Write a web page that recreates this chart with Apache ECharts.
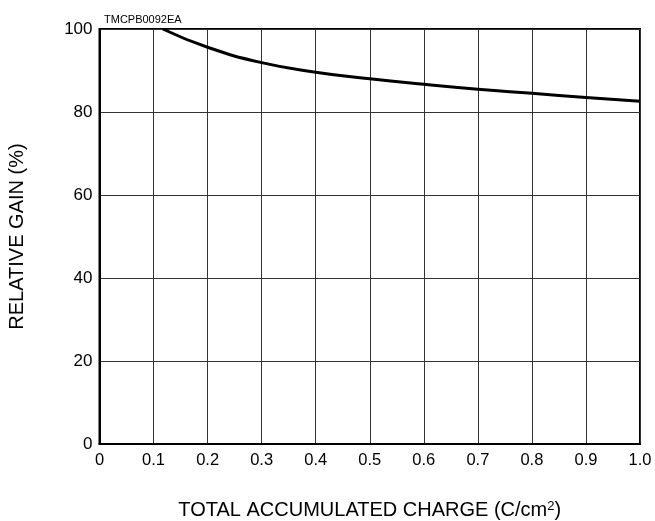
<!DOCTYPE html>
<html>
<head>
<meta charset="utf-8">
<script src="https://cdn.jsdelivr.net/npm/echarts@6/dist/echarts.min.js"></script>
<style>
  html, body { margin: 0; padding: 0; background: #fff; }
  #chart { width: 655px; height: 521px; }
</style>
</head>
<body>
<div id="chart"></div>
<script>
// Relative gain versus total accumulated charge
const chargeValues = [0.117, 0.2, 0.3, 0.4, 0.5, 0.6, 0.7, 0.8, 0.9, 1.0];
const gainValues   = [100, 95.6, 91.9, 89.6, 88.0, 86.7, 85.5, 84.5, 83.5, 82.6];
const xTicks = ['0', '0.1', '0.2', '0.3', '0.4', '0.5', '0.6', '0.7', '0.8', '0.9', '1.0'];
const yTicks = ['0', '20', '40', '60', '80', '100'];

const font = 'Liberation Sans, Arial, Helvetica, sans-serif';
const chart = echarts.init(document.getElementById('chart'), null, { renderer: 'canvas' });

chart.setOption({
  animation: false,
  backgroundColor: '#fff',
  title: {
    text: 'TMCPB0092EA',
    left: 99, top: 9,
    textStyle: { fontFamily: font, fontSize: 11, fontWeight: 'normal', color: '#000' }
  },
  grid: {
    left: 99.5, right: 15, top: 29, bottom: 77,
    outerBoundsMode: 'none',
    containLabel: false,
    show: true, borderColor: '#000', borderWidth: 2
  },
  xAxis: {
    type: 'value', min: 0, max: 1, interval: 0.1,
    name: '{m|TOTAL ACCUMULATED CHARGE (C/cm}{s|2}{m|)}',
    nameLocation: 'middle', nameGap: 56,
    nameTextStyle: {
      rich: {
        m: { fontFamily: font, fontSize: 20, color: '#000' },
        s: { fontFamily: font, fontSize: 13, color: '#000', padding: [0, 0, 7, 0] }
      }
    },
    axisLine: { show: true, lineStyle: { color: '#000', width: 2 } },
    axisTick: { show: false },
    splitLine: { show: true, lineStyle: { color: '#333', width: 1 } },
    axisLabel: {
      margin: 8, color: '#000', fontFamily: font, fontSize: 16.5,
      formatter: v => xTicks[Math.round(v * 10)]
    }
  },
  yAxis: {
    type: 'value', min: 0, max: 100, interval: 20,
    name: 'RELATIVE GAIN (%)',
    nameLocation: 'middle', nameGap: 72,
    nameTextStyle: { fontFamily: font, fontSize: 20, color: '#000' },
    axisLine: { show: true, lineStyle: { color: '#000', width: 2 } },
    axisTick: { show: false },
    splitLine: { show: true, lineStyle: { color: '#333', width: 1 } },
    axisLabel: {
      margin: 7, color: '#000', fontFamily: font, fontSize: 17,
      formatter: v => yTicks[Math.round(v / 20)]
    }
  },
  series: [{
    type: 'line',
    data: chargeValues.map((c, i) => [c, gainValues[i]]),
    smooth: 0.5,
    showSymbol: false,
    lineStyle: { color: '#000', width: 3 }
  }]
});
</script>
</body>
</html>
